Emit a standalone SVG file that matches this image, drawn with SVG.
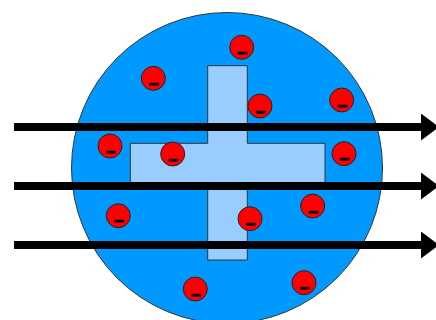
<svg xmlns="http://www.w3.org/2000/svg" width="436" height="320" viewBox="0 0 436 320">
<style>
.e{fill:#ff0000;stroke:#222;stroke-width:1}
.m{font-family:"Liberation Sans",Arial,sans-serif;font-weight:bold;font-size:18px;fill:#000;stroke:#000;stroke-width:0.8;text-anchor:middle}
.arr{stroke:#000;stroke-width:8;fill:none}
</style>
<defs>
<marker id="ah" markerUnits="userSpaceOnUse" markerWidth="18" markerHeight="28" refX="0" refY="13.5" orient="auto">
<path d="M0,0 L18,13.5 L0,27 Z" fill="#000"/>
</marker>
</defs>
<g id="body">
<circle cx="227" cy="168" r="155.5" fill="#0099ff" stroke="#333" stroke-width="1"/>
<path d="M207.7,65.7 H247.3 V143.3 H325 V183 H247.3 V260 H207.7 V183 H130.3 V143.3 H207.7 Z" fill="#99ccff" stroke="#333" stroke-width="1"/>
</g>
<g id="e1"><circle class="e" cx="241.7" cy="47.3" r="12"/><text class="m" x="242.2" y="57.8">–</text></g>
<g id="e2"><circle class="e" cx="153.3" cy="78.3" r="12"/><text class="m" x="153.8" y="88.8">–</text></g>
<g id="e3"><circle class="e" cx="260" cy="106" r="12"/><text class="m" x="260.5" y="116.5">–</text></g>
<g id="e4"><circle class="e" cx="341.7" cy="100" r="12"/><text class="m" x="342.2" y="110.5">–</text></g>
<g id="e5"><circle class="e" cx="110" cy="146" r="12"/><text class="m" x="110.5" y="156.5">–</text></g>
<g id="e6"><circle class="e" cx="172.7" cy="154" r="12"/><text class="m" x="173.2" y="164.5">–</text></g>
<g id="e7"><circle class="e" cx="344" cy="153.7" r="12"/><text class="m" x="344.5" y="164.2">–</text></g>
<g id="e8"><circle class="e" cx="118.3" cy="215.7" r="12"/><text class="m" x="118.8" y="226.2">–</text></g>
<g id="e9"><circle class="e" cx="312.7" cy="206" r="12"/><text class="m" x="313.2" y="216.5">–</text></g>
<g id="e10"><circle class="e" cx="250" cy="218.7" r="12"/><text class="m" x="250.5" y="229.2">–</text></g>
<g id="e11"><circle class="e" cx="195.3" cy="289" r="12"/><text class="m" x="195.8" y="299.5">–</text></g>
<g id="e12"><circle class="e" cx="304" cy="282.7" r="12"/><text class="m" x="304.5" y="293.2">–</text></g>
<g id="connectors">
<line class="arr" x1="14" y1="127" x2="421" y2="127" marker-end="url(#ah)"/>
<line class="arr" x1="14" y1="186" x2="421" y2="186" marker-end="url(#ah)"/>
<line class="arr" x1="14" y1="245" x2="421" y2="245" marker-end="url(#ah)"/>
</g>
</svg>
